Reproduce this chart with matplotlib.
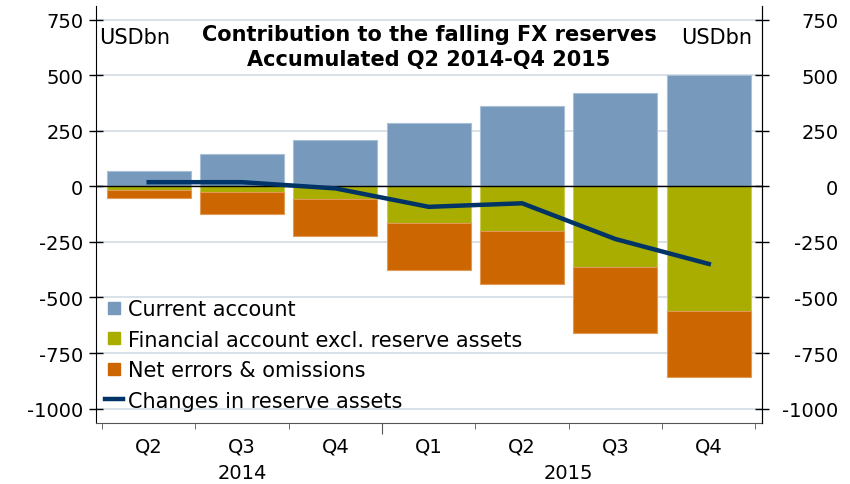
import matplotlib
matplotlib.use('Agg')
import matplotlib.pyplot as plt
from matplotlib.lines import Line2D
import numpy as np

# values (USD bn, accumulated)
quarters = ['Q2', 'Q3', 'Q4', 'Q1', 'Q2', 'Q3', 'Q4']
years = ['2014', '2015']
year_pos = [1, 4.5]
current_account = [70, 144, 209, 285, 360, 420, 503]
financial_account = [-17, -27, -57, -165, -202, -362, -563]
net_errors = [-35, -97, -165, -212, -237, -297, -295]
reserve_changes = [19, 19, -9, -92, -76, -237, -349]
yticks = [750, 500, 250, 0, -250, -500, -750, -1000]

c_ca = '#7699bc'
c_fa = '#a8ad00'
c_ne = '#cc6600'
c_line = '#003366'

plt.rcParams['font.family'] = ['DejaVu Sans']
fs_tick = 14
fs_text = 15

fig = plt.figure(figsize=(8.5, 4.85), dpi=100)
ax = fig.add_axes([96 / 850, 1 - 424 / 485, 666 / 850, 417 / 485])

x = np.arange(len(quarters))
w = 0.9
ax.bar(x, current_account, w, color=c_ca, edgecolor='#a9bfd6', linewidth=0.8, zorder=2)
ax.bar(x, financial_account, w, color=c_fa, edgecolor='#c8cc55', linewidth=0.8, zorder=2)
ax.bar(x, net_errors, w, bottom=financial_account, color=c_ne, edgecolor='#e09a55',
       linewidth=0.8, zorder=2)
ax.plot(x, reserve_changes, color=c_line, linewidth=3.2, zorder=4)

ylim = (-1065, 812)
ax.set_xlim(-0.565, 6.57)
ax.set_ylim(*ylim)
ax.set_yticks(yticks)
ax.set_yticklabels([str(v) for v in yticks])
ax.yaxis.grid(True, color='#d6dee7', linewidth=1.3, zorder=0)
ax.set_axisbelow(True)
ax.axhline(0, color='black', linewidth=1.0, zorder=3)
ax.tick_params(axis='y', direction='inout', length=10, width=1,
               labelsize=fs_tick, pad=4)

# right-hand scale, labels right-aligned at the image edge
axr = ax.twinx()
axr.set_ylim(*ylim)
axr.set_yticks(yticks)
axr.set_yticklabels([str(v) for v in yticks], ha='right')
axr.tick_params(axis='y', direction='inout', length=10, width=1,
                labelsize=fs_tick, pad=50)
for side in ['top', 'left', 'bottom']:
    axr.spines[side].set_visible(False)

ax.spines['top'].set_visible(False)
ax.spines['bottom'].set_color('#555555')

# quarter labels at bar centres, small ticks between quarters
ax.set_xticks(x)
ax.set_xticklabels(quarters)
ax.set_xticks(np.arange(-0.5, len(quarters)), minor=True)
ax.tick_params(axis='x', which='major', length=0, labelsize=fs_tick, pad=10)
ax.tick_params(axis='x', which='minor', length=4, color='#555555', direction='out')

sec = ax.secondary_xaxis('bottom')
sec.set_xticks(year_pos)
sec.set_xticklabels(years)
sec.tick_params(length=0, labelsize=fs_tick, pad=29)
sec.spines['bottom'].set_visible(False)

sec2 = ax.secondary_xaxis('bottom')
sec2.set_xticks([2.5])
sec2.set_xticklabels([''])
sec2.tick_params(length=8, color='#555555')
sec2.spines['bottom'].set_visible(False)

ax.text(0.5, 0.957, 'Contribution to the falling FX reserves\nAccumulated Q2 2014-Q4 2015',
        transform=ax.transAxes, ha='center', va='top', fontsize=fs_text,
        fontweight='bold', linespacing=1.3)
ax.text(0.004, 0.925, 'USDbn', transform=ax.transAxes, ha='left', va='center', fontsize=fs_text)
ax.text(0.985, 0.925, 'USDbn', transform=ax.transAxes, ha='right', va='center', fontsize=fs_text)

handles = [
    Line2D([], [], marker='s', linestyle='none', color=c_ca, markersize=8),
    Line2D([], [], marker='s', linestyle='none', color=c_fa, markersize=8),
    Line2D([], [], marker='s', linestyle='none', color=c_ne, markersize=8),
    Line2D([], [], color=c_line, linewidth=3.2),
]
labels = ['Current account', 'Financial account excl. reserve assets',
          'Net errors & omissions', 'Changes in reserve assets']
ax.legend(handles, labels, loc='lower left', bbox_to_anchor=(-0.006, 0.0),
          frameon=False, fontsize=fs_text, handlelength=0.9, handletextpad=0.22,
          labelspacing=0.5, borderaxespad=0.2)

fig.savefig('out.png', dpi=100)
